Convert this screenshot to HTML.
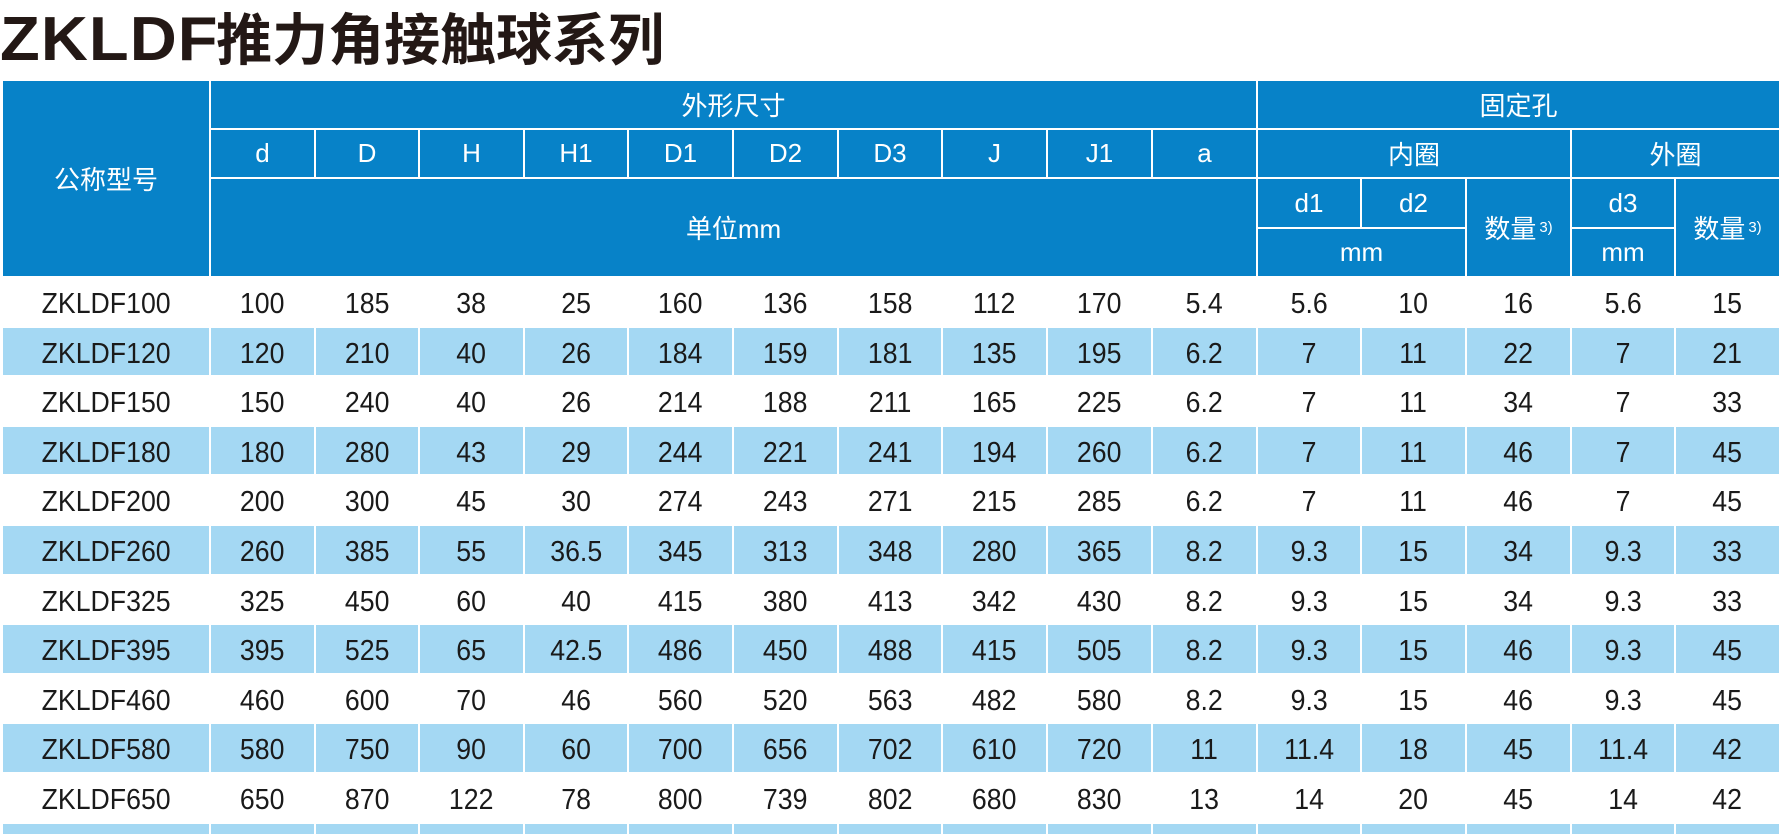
<!DOCTYPE html>
<html><head><meta charset="utf-8"><style>
body{margin:0;width:1781px;height:829px;background:#fff;position:relative;overflow:hidden;font-family:"Liberation Sans","Noto Sans CJK SC",sans-serif}
.t{position:absolute;left:0;top:-4px;font-size:56px;font-weight:bold;color:#231815;white-space:nowrap}
.t b{font-size:62px;letter-spacing:1px;display:inline-block;transform:scaleX(1.05);transform-origin:left;margin-right:8px}
.c{position:absolute;display:flex;align-items:center;justify-content:center;box-sizing:border-box;white-space:nowrap}
.h{background:#0782c8;color:#fff;font-size:26px}
.d{color:#1a1a1a;font-size:29px;padding-top:5px}
.d span{display:inline-block;transform:scaleX(0.92)}
.l{background:#a4d8f3}
sup{font-size:15px;vertical-align:10px;margin-left:3px}
</style></head><body>
<div class="t"><b>ZKLDF</b>推力角接触球系列</div>
<div id="g"></div>
<script>
var X=[2,210,315,419,524,628,733,838,942,1047,1152,1257,1361,1466,1571,1675,1780];
var h='';
function cell(x1,y1,x2,y2,cls,txt){h+='<div class="c '+cls+'" style="left:'+(x1+1)+'px;top:'+(y1+1)+'px;width:'+(x2-x1-2)+'px;height:'+(y2-y1-2)+'px">'+txt+'</div>';}
var H0=80,H1=129,H2=178,H3=228,H4=277;
cell(X[0],H0,X[1],H4,'h','公称型号');
cell(X[1],H0,X[11],H1,'h','外形尺寸');
cell(X[11],H0,X[16],H1,'h','固定孔');
var hd=['d','D','H','H1','D1','D2','D3','J','J1','a'];
for(var i=0;i<10;i++)cell(X[1+i],H1,X[2+i],H2,'h',hd[i]);
cell(X[1],H2,X[11],H4,'h','单位mm');
cell(X[11],H1,X[14],H2,'h','内圈');
cell(X[14],H1,X[16],H2,'h','外圈');
cell(X[11],H2,X[12],H3,'h','d1');
cell(X[12],H2,X[13],H3,'h','d2');
cell(X[11],H3,X[13],H4,'h','mm');
cell(X[13],H2,X[14],H4,'h','数量<sup>3)</sup>');
cell(X[14],H2,X[15],H3,'h','d3');
cell(X[14],H3,X[15],H4,'h','mm');
cell(X[15],H2,X[16],H4,'h','数量<sup>3)</sup>');
var R=[
['ZKLDF100',100,185,38,25,160,136,158,112,170,5.4,5.6,10,16,5.6,15],
['ZKLDF120',120,210,40,26,184,159,181,135,195,6.2,7,11,22,7,21],
['ZKLDF150',150,240,40,26,214,188,211,165,225,6.2,7,11,34,7,33],
['ZKLDF180',180,280,43,29,244,221,241,194,260,6.2,7,11,46,7,45],
['ZKLDF200',200,300,45,30,274,243,271,215,285,6.2,7,11,46,7,45],
['ZKLDF260',260,385,55,'36.5',345,313,348,280,365,8.2,9.3,15,34,9.3,33],
['ZKLDF325',325,450,60,40,415,380,413,342,430,8.2,9.3,15,34,9.3,33],
['ZKLDF395',395,525,65,'42.5',486,450,488,415,505,8.2,9.3,15,46,9.3,45],
['ZKLDF460',460,600,70,46,560,520,563,482,580,8.2,9.3,15,46,9.3,45],
['ZKLDF580',580,750,90,60,700,656,702,610,720,11,11.4,18,45,11.4,42],
['ZKLDF650',650,870,122,78,800,739,802,680,830,13,14,20,45,14,42]];
var P=49.6;
for(var r=0;r<R.length;r++){var y1=H4+r*P,y2=y1+P;
 for(var j=0;j<16;j++)cell(X[j],Math.round(y1),X[j+1],Math.round(y2),'d'+(r%2?' l':''),'<span>'+R[r][j]+'</span>');}
for(var j=0;j<16;j++)cell(X[j],823,X[j+1],835,'l','');
document.getElementById('g').innerHTML=h;
</script>
</body></html>
